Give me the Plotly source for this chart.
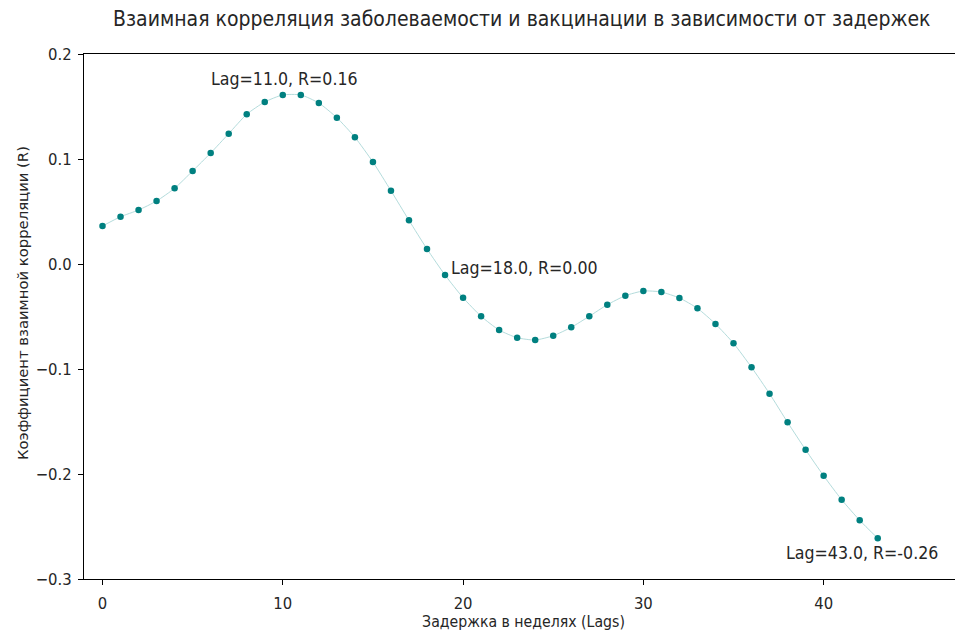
import plotly.graph_objects as go

lags = list(range(44))
r_values = [
    0.0362, 0.0450, 0.0514, 0.0600, 0.0721, 0.0886, 0.1057, 0.1241, 0.1426, 0.1543,
    0.1610, 0.1610, 0.1533, 0.1393, 0.1207, 0.0971, 0.0698, 0.0416, 0.0143, -0.0105,
    -0.0321, -0.0498, -0.0629, -0.0702, -0.0724, -0.0683, -0.0603, -0.0498, -0.0388, -0.0302,
    -0.0257, -0.0267, -0.0324, -0.0422, -0.0571, -0.0755, -0.0984, -0.1235, -0.1508, -0.1769,
    -0.2017, -0.2245, -0.2441, -0.2612,
]

annot_texts = ["Lag=11.0, R=0.16", "Lag=18.0, R=0.00", "Lag=43.0, R=-0.26"]
annot_x = [10.07, 23.38, 42.15]
annot_y = [0.176, -0.0041, -0.2755]

x_ticks = [0, 10, 20, 30, 40]
y_ticks = [0.2, 0.1, 0.0, -0.1, -0.2, -0.3]

FONT = "DejaVu Sans"
COND = "DejaVu Sans Condensed"
TXT = "#262626"

fig = go.Figure()
fig.add_trace(go.Scatter(
    x=lags, y=r_values, mode="lines",
    line=dict(color="#b4dcdc", width=1, shape="spline", smoothing=0.6),
    hoverinfo="skip", showlegend=False,
))
fig.add_trace(go.Scatter(
    x=lags, y=r_values, mode="markers",
    marker=dict(color="#008080", size=6.5, line=dict(width=0)),
    showlegend=False,
))

for t, ax, ay in zip(annot_texts, annot_x, annot_y):
    fig.add_annotation(x=ax, y=ay, text=t, showarrow=False,
                       xanchor="center", yanchor="middle",
                       font=dict(family=COND, size=17.6, color=TXT))

# y-axis label as a rotated annotation for precise placement
fig.add_annotation(xref="paper", yref="paper", x=-0.0705, y=0.5257,
                   text="Коэффициент взаимной корреляции (R)", textangle=-90,
                   showarrow=False, xanchor="center", yanchor="middle",
                   font=dict(family=FONT, size=14.8, color=TXT))

# page body has an 8px margin, so the figure is sized/offset to compensate
fig.update_layout(
    width=955, height=623,
    margin=dict(l=76, r=0, t=46, b=52),
    paper_bgcolor="white", plot_bgcolor="white",
    font=dict(family=COND, size=16, color=TXT),
    title=dict(text="Взаимная корреляция заболеваемости и вакцинации в зависимости от задержек",
               x=0.538, xanchor="center", y=0.9823, yanchor="middle",
               font=dict(family=COND, size=21, color=TXT)),
    xaxis=dict(
        range=[-1.026, 47.73], tickvals=x_ticks, ticktext=[str(v) for v in x_ticks],
        showgrid=False, zeroline=False, showline=True, linecolor="black", linewidth=1,
        mirror=True, ticks="outside", ticklen=5, tickwidth=1, tickcolor="black",
        automargin=False, ticklabelstandoff=4,
        tickfont=dict(family=COND, size=16.5, color=TXT),
        title=dict(text="Задержка в неделях (Lags)", font=dict(family=COND, size=15.7, color=TXT), standoff=2),
    ),
    yaxis=dict(
        range=[-0.3, 0.2], tickvals=y_ticks, tickformat=".1f",
        showgrid=False, zeroline=False, showline=True, linecolor="black", linewidth=1,
        mirror=False, ticks="outside", ticklen=5, tickwidth=1, tickcolor="black",
        automargin=False, ticklabelstandoff=3,
        tickfont=dict(family=COND, size=16.5, color=TXT),
    ),
)

fig.write_html("out.html")
